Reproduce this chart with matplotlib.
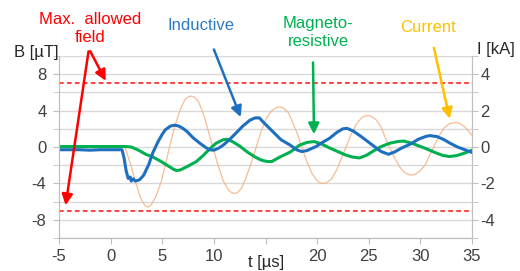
import matplotlib
matplotlib.use("Agg")
import matplotlib.pyplot as plt

plt.rcParams['font.family'] = ['Liberation Sans', 'DejaVu Sans']
plt.rcParams['axes.unicode_minus'] = False

# inductive sensor, B [uT]
t_ind = [-5.0, -3.0, -2.0, -1.0, 0.0, 1.1, 1.3, 1.5, 1.7, 1.9, 2.0, 2.2, 2.4, 2.8, 3.2,
         3.7, 4.1, 4.6, 5.0, 5.3, 5.8, 6.2, 6.6, 7.0, 7.4, 8.0, 8.6, 9.2, 9.6, 10.0,
         10.5, 10.9, 11.5, 12.2, 12.8, 13.5, 14.0, 14.4, 14.9, 15.7, 16.5, 17.4, 18.0,
         18.5, 19.0, 19.9, 20.5, 21.2, 21.9, 22.5, 22.9, 23.5, 24.2, 24.9, 25.6, 26.2,
         26.9, 27.5, 28.2, 29.0, 29.8, 30.5, 30.9, 31.6, 32.3, 32.9, 33.6, 34.3, 35.0]
b_ind = [-0.3, -0.3, -0.35, -0.3, -0.3, -0.3, -1.2, -2.6, -3.45, -3.3, -3.75, -3.5, -3.75,
         -3.6, -3.1, -1.9, -0.6, 0.6, 1.4, 1.9, 2.3, 2.4, 2.3, 2.05, 1.7, 1.0, 0.45, -0.05,
         -0.3, -0.35, -0.1, 0.2, 0.8, 1.6, 2.3, 2.95, 3.2, 3.2, 2.6, 1.7, 0.8, 0.2, -0.3,
         -0.5, -0.4, 0.05, 0.5, 0.95, 1.6, 2.0, 2.05, 1.75, 1.2, 0.6, 0.0, -0.5, -0.8,
         -0.55, -0.1, 0.3, 0.85, 1.15, 1.25, 1.15, 0.8, 0.4, 0.0, -0.3, -0.6]

# magneto-resistive sensor, B [uT]
t_mr = [-5.0, 0.0, 1.5, 2.0, 2.7, 3.4, 4.1, 4.9, 5.6, 6.1, 6.4, 6.8, 7.5, 8.3, 9.0, 9.6,
        10.2, 10.9, 11.3, 11.8, 12.5, 13.3, 14.0, 14.6, 15.2, 15.6, 16.4, 17.4, 18.3,
        19.0, 19.7, 20.4, 21.2, 21.9, 22.7, 23.4, 24.1, 24.8, 25.5, 26.2, 27.0, 27.8,
        28.4, 29.2, 29.9, 30.6, 31.4, 32.1, 32.8, 33.5, 34.2, 35.0]
b_mr = [0.05, 0.05, 0.05, 0.0, -0.35, -0.8, -1.1, -1.6, -2.1, -2.45, -2.6, -2.5, -2.1,
        -1.6, -0.9, -0.2, 0.4, 0.8, 0.85, 0.6, 0.1, -0.6, -1.1, -1.45, -1.6, -1.6, -1.1,
        -0.55, 0.2, 0.5, 0.6, 0.35, -0.1, -0.45, -0.85, -1.1, -1.2, -0.9, -0.4, 0.05,
        0.4, 0.6, 0.65, 0.4, 0.1, -0.2, -0.6, -0.9, -1.05, -0.95, -0.7, -0.35]

# current, I [kA]
t_cur = [-5.0, 1.4, 1.9, 2.4, 2.9, 3.3, 3.6, 3.9, 4.4, 4.9, 5.3, 5.7, 6.2, 6.7, 7.2, 7.5,
         7.8, 8.1, 8.5, 9.0, 9.4, 9.9, 10.4, 10.9, 11.4, 11.7, 12.0, 12.3, 12.7, 13.1,
         13.6, 14.1, 14.6, 15.1, 15.6, 16.1, 16.4, 16.7, 17.2, 17.6, 18.1, 18.5, 19.0,
         19.5, 20.0, 20.3, 20.6, 20.9, 21.4, 21.9, 22.3, 22.8, 23.3, 23.8, 24.3, 24.6,
         24.9, 25.2, 25.7, 26.2, 26.6, 27.0, 27.5, 28.0, 28.5, 28.9, 29.2, 29.5, 30.0,
         30.5, 30.9, 31.3, 31.8, 32.3, 32.8, 33.2, 33.5, 33.8, 34.3, 35.0]
i_cur = [0.0, 0.0, -0.9, -1.9, -2.8, -3.2, -3.3, -3.2, -2.7, -1.9, -1.0, 0.0, 1.1, 2.0,
         2.6, 2.75, 2.8, 2.75, 2.5, 1.8, 1.0, 0.0, -1.0, -1.85, -2.35, -2.5, -2.55, -2.5,
         -2.25, -1.7, -0.9, 0.0, 0.9, 1.6, 2.0, 2.18, 2.2, 2.15, 1.9, 1.4, 0.7, 0.0, -0.8,
         -1.45, -1.85, -1.98, -2.0, -1.97, -1.75, -1.25, -0.7, 0.0, 0.7, 1.25, 1.6, 1.7,
         1.72, 1.7, 1.5, 1.1, 0.5, 0.0, -0.6, -1.1, -1.42, -1.52, -1.54, -1.5, -1.3,
         -0.95, -0.45, 0.0, 0.6, 1.05, 1.28, 1.33, 1.34, 1.3, 1.1, 0.65]

b_limit = [7, -7]
x_ticks = [-5, 0, 5, 10, 15, 20, 25, 30, 35]
x_labels = ['-5', '0', '5', '10', '', '20', '25', '30', '35']  # 15 is covered by the axis title
b_ticks = [-8, -4, 0, 4, 8]
i_ticks = [-4, -2, 0, 2, 4]

grey = '#404040'
fig = plt.figure(figsize=(5.2, 2.71), dpi=100)
ax = fig.add_axes([59 / 520, 1 - 238 / 271, 413 / 520, 182 / 271])
ax2 = ax.twinx()
ax.set_zorder(ax2.get_zorder() + 1)
ax.patch.set_visible(False)

# grid drawn on the twin axis so the current trace sits above it
ax2.set_xticks(x_ticks)
ax2.set_yticks(range(-5, 6), minor=True)
ax2.grid(True, which='both', color='#D9D9D9', lw=1.0)
ax2.set_axisbelow(True)

ax2.plot(t_cur, i_cur, color='#F4B183', lw=0.9, alpha=0.85)
ax.plot(t_mr, b_mr, color='#00B050', lw=2.2)
ax.plot(t_ind, b_ind, color='#1F6FBF', lw=2.2)
for b in b_limit:
    ax.axhline(b, color='#FF3333', lw=1.3, ls=(0, (2.6, 1.8)))

ax.set_xlim(-5, 35)
ax.set_ylim(-10, 10)
ax2.set_ylim(-5, 5)
ax.set_xticks(x_ticks)
ax.set_xticklabels(x_labels)
ax.set_yticks(b_ticks)
ax.set_yticks(range(-10, 11, 2), minor=True)
ax2.set_yticks(i_ticks)

for a in (ax, ax2):
    for s in a.spines.values():
        s.set_color('#BFBFBF')
    a.spines['top'].set_visible(False)
    a.tick_params(which='both', colors='#BFBFBF', labelcolor=grey, labelsize=12, length=4)
ax.tick_params(axis='y', pad=5)
ax2.tick_params(axis='y', pad=2)
ax.tick_params(axis='x', pad=4)

fig.text(58 / 520, 1 - 53 / 271, 'B [µT]', ha='right', va='center', fontsize=12, color='#262626')
fig.text(477 / 520, 1 - 50 / 271, 'I [kA]', ha='left', va='center', fontsize=12, color='#262626')
fig.text(266 / 520, 1 - 262 / 271, 't [µs]', ha='center', va='center', fontsize=12, color='#262626')

# annotations
ax.text(-2.0, 13.0, 'Max.  allowed\nfield', color='#FF0000', ha='center', va='center',
        fontsize=12, linespacing=1.25, clip_on=False)
for tip in [(-0.35, 7.0), (-4.4, -6.7)]:
    ax.annotate('', xy=tip, xytext=(-2.1, 10.8), annotation_clip=False,
                arrowprops=dict(arrowstyle='-|>', color='#FF0000', lw=1.8, mutation_scale=16))

ax.text(8.75, 13.4, 'Inductive', color='#2E7BC4', ha='center', va='center', fontsize=12,
        clip_on=False)
ax.annotate('', xy=(12.7, 3.0), xytext=(9.9, 11.0), annotation_clip=False,
            arrowprops=dict(arrowstyle='-|>', color='#1F6FBF', lw=1.8, mutation_scale=16))

ax.text(20.1, 12.6, 'Magneto-\nresistive', color='#00B050', ha='center', va='center',
        fontsize=12, linespacing=1.25, clip_on=False)
ax.annotate('', xy=(19.7, 1.1), xytext=(19.6, 9.6), annotation_clip=False,
            arrowprops=dict(arrowstyle='-|>', color='#00B050', lw=1.8, mutation_scale=16))

ax.text(30.7, 13.1, 'Current', color='#FFC000', ha='center', va='center', fontsize=12,
        clip_on=False)
ax.annotate('', xy=(32.9, 2.8), xytext=(31.25, 11.2), annotation_clip=False,
            arrowprops=dict(arrowstyle='-|>', color='#FFC000', lw=1.8, mutation_scale=16))

fig.savefig('out.png', dpi=100, facecolor='white')
